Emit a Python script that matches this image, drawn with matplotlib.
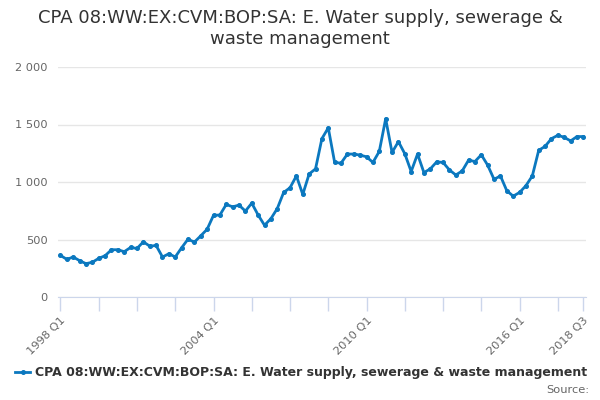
import matplotlib
matplotlib.use("Agg")
import matplotlib.pyplot as plt
from matplotlib.ticker import FuncFormatter

# quarterly values 1998 Q1 .. 2018 Q3
values = [362, 327, 348, 316, 290, 302, 336, 359,
          411, 411, 394, 431, 422, 480, 442, 448,
          348, 376, 348, 428, 503, 477, 532, 589,
          710, 713, 805, 784, 799, 747, 816, 713,
          624, 681, 769, 909, 950, 1053, 892, 1070,
          1114, 1377, 1471, 1170, 1164, 1243, 1243, 1234,
          1219, 1170, 1266, 1550, 1257, 1351, 1246, 1091,
          1243, 1082, 1114, 1175, 1170, 1105, 1061, 1096,
          1190, 1178, 1237, 1146, 1023, 1053, 924, 877,
          909, 968, 1053, 1275, 1310, 1377, 1406, 1389,
          1357, 1395, 1395]
quarters = ["%d Q%d" % (1998 + i // 4, i % 4 + 1) for i in range(len(values))]
labelled = ["1998 Q1", "2004 Q1", "2010 Q1", "2016 Q1", "2018 Q3"]
yticks = [0, 500, 1000, 1500, 2000]

title = "CPA 08:WW:EX:CVM:BOP:SA: E. Water supply, sewerage &\nwaste management"
series_name = "CPA 08:WW:EX:CVM:BOP:SA: E. Water supply, sewerage & waste management"

line_col = "#0b78bf"
grid_col = "#e6e6e6"
axis_col = "#ccd6eb"

fig = plt.figure(figsize=(6, 4), dpi=100)
ax = fig.add_axes([0.096, 0.2575, 0.881, 0.575])

x = list(range(len(values)))
ax.plot(x, values, color=line_col, lw=2, marker="o", ms=2.6, zorder=3)

ax.set_ylim(0, 2000)
ax.set_xlim(-0.45, len(values) - 1 + 0.45)
ax.set_yticks(yticks)
ax.yaxis.set_major_formatter(FuncFormatter(lambda v, p: "{:,}".format(int(v)).replace(",", " ")))
ax.grid(axis="y", color=grid_col, lw=1)
ax.set_axisbelow(True)

tick_pos = list(range(0, len(values), 6)) + [len(values) - 1]
ax.set_xticks(tick_pos)
ax.set_xticklabels([quarters[i] if quarters[i] in labelled else "" for i in tick_pos],
                   rotation=45, ha="right", rotation_mode="anchor")

for s in ["top", "right", "left"]:
    ax.spines[s].set_visible(False)
ax.spines["bottom"].set_color(axis_col)
ax.tick_params(axis="x", colors=axis_col, length=10, width=1, labelcolor="#666666",
               labelsize=8.2, pad=3)
ax.tick_params(axis="y", length=0, labelcolor="#666666", labelsize=8.2, pad=7)

fig.text(0.5, 0.978, title, ha="center", va="top", fontsize=13, color="#333333",
         linespacing=1.22)

# legend + source
leg = fig.legend([ax.lines[0]], [series_name], loc="center", bbox_to_anchor=(0.502, 0.068),
                 frameon=False, handlelength=1.2, handletextpad=0.4,
                 prop={"weight": "bold", "size": 9.0})
for t in leg.get_texts():
    t.set_color("#333333")
fig.text(0.982, 0.025, "Source:", ha="right", va="center", fontsize=8.2, color="#666666")

fig.savefig("out.png", dpi=100)
